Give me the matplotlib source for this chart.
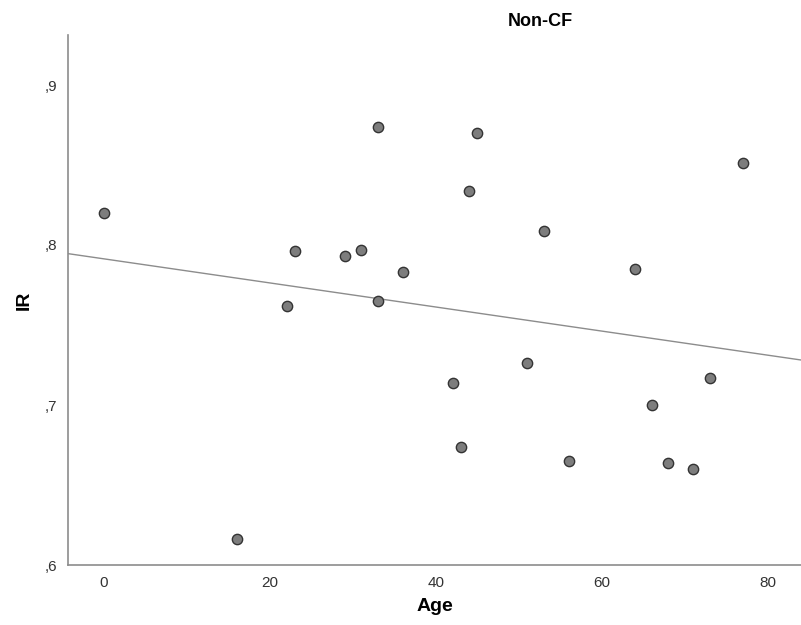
import numpy as np
import matplotlib
matplotlib.use("Agg")
import matplotlib.pyplot as plt

plt.rcParams['font.family'] = ['Liberation Sans', 'DejaVu Sans']

age = [0, 16, 22, 23, 29, 31, 33, 33, 36, 42, 43, 44, 45, 51, 53, 56, 64, 66, 68, 71, 73, 77]
ir = [0.820, 0.616, 0.762, 0.796, 0.793, 0.797, 0.874, 0.765, 0.783, 0.714, 0.674,
      0.834, 0.870, 0.726, 0.809, 0.665, 0.785, 0.700, 0.664, 0.660, 0.717, 0.851]
xticks = [0, 20, 40, 60, 80]
yticks = [0.6, 0.7, 0.8, 0.9]
ytick_labels = [",6", ",7", ",8", ",9"]

fig = plt.figure(figsize=(8.01, 6.25), dpi=100)
ax = fig.add_axes([68/801, 60/625, 733/801, 530/625])

xlim = (-4.34, 84.0)
ax.set_xlim(*xlim)
ax.set_ylim(0.6, 0.93125)

slope, intercept = np.polyfit(age, ir, 1)
xs = np.array(xlim)
ax.plot(xs, intercept + slope * xs, color='#8c8c8c', lw=1.0, zorder=2)

ax.scatter(age, ir, s=55, facecolor='#7d7d7d', edgecolor='#333333', linewidth=1.0, zorder=3)

ax.set_xticks(xticks)
ax.set_xticklabels([str(t) for t in xticks])
ax.set_yticks(yticks)
ax.set_yticklabels(ytick_labels)
ax.tick_params(length=0, labelsize=11, colors='#333333', pad=8)

for s in ['top', 'right']:
    ax.spines[s].set_visible(False)
for s in ['left', 'bottom']:
    ax.spines[s].set_color('#8c8c8c')
    ax.spines[s].set_linewidth(1.2)

ax.set_xlabel("Age", fontsize=14, fontweight='bold', labelpad=6)
ax.set_ylabel("IR", fontsize=14, fontweight='bold', labelpad=8)
fig.text(540/801, 1 - 22/625, "Non-CF", ha='center', va='center', fontsize=13, fontweight='bold')

fig.savefig("out.png", dpi=100, facecolor='white')
